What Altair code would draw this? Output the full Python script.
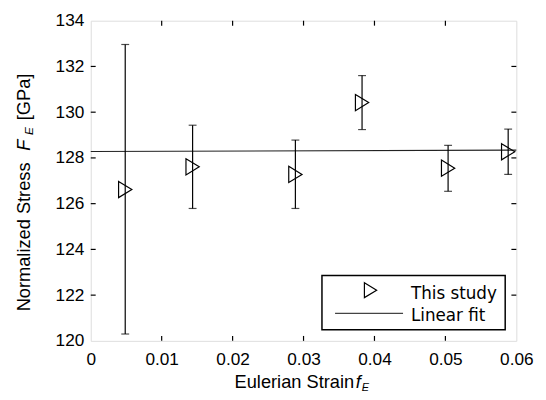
import altair as alt
import pandas as pd

# ---- data ----
strain = [0.00486, 0.01436, 0.02885, 0.03825, 0.05038, 0.05885]
stress = [126.62, 127.61, 127.28, 130.42, 127.55, 128.27]
err_low = [120.30, 125.79, 125.79, 129.24, 126.54, 127.28]
err_high = [132.96, 129.43, 128.78, 131.60, 128.55, 129.26]

fit_x = [0.0, 0.06]
fit_y = [128.28, 128.34]

x_ticks = [0, 0.01, 0.02, 0.03, 0.04, 0.05, 0.06]
y_ticks = [120, 122, 124, 126, 128, 130, 132, 134]
legend_labels = ["This study", "Linear fit"]

FONT = "Liberation Sans"
LFONT = "DejaVu Sans"
W, H = 432, 325
TRI = "M-0.82,-1L0.82,0L-0.82,1Z"

pts = pd.DataFrame({"strain": strain, "stress": stress, "lo": err_low, "hi": err_high})
fit = pd.DataFrame({"strain": fit_x, "stress": fit_y})
xt = pd.DataFrame({"strain": x_ticks[1:-1]})
yt = pd.DataFrame({"stress": y_ticks[1:-1]})
dummy = pd.DataFrame({"a": [0]})

xs = alt.Scale(domain=[0, 0.06], nice=False, zero=False)
ys = alt.Scale(domain=[120, 134], nice=False, zero=False)

x_axis = alt.Axis(values=x_ticks, format=".2~f", title=None, grid=False, domain=False,
                  ticks=False, labelFont=FONT, labelFontSize=17.5, labelColor="black",
                  labelPadding=10, labelFlush=False)
y_axis = alt.Axis(values=y_ticks, format="d", title=None, grid=False, domain=False,
                  ticks=False, labelFont=FONT, labelFontSize=17.5, labelColor="black",
                  labelPadding=7, labelFlush=False)


def X(f):
    return alt.X(f, scale=xs, axis=x_axis, title=None)


def Y(f):
    return alt.Y(f, scale=ys, axis=y_axis, title=None)


fit_line = alt.Chart(fit).mark_line(color="#222222", strokeWidth=1.2).encode(
    x=X("strain:Q"), y=Y("stress:Q"))

bars = alt.Chart(pts).mark_rule(color="black", strokeWidth=1.2).encode(
    x=X("strain:Q"), y=Y("lo:Q"), y2="hi:Q")
cap_lo = alt.Chart(pts).mark_tick(orient="horizontal", size=8, thickness=1.2, color="black").encode(
    x=X("strain:Q"), y=Y("lo:Q"))
cap_hi = alt.Chart(pts).mark_tick(orient="horizontal", size=8, thickness=1.2, color="black").encode(
    x=X("strain:Q"), y=Y("hi:Q"))
markers = alt.Chart(pts).mark_point(shape=TRI, size=270, filled=False, stroke="black",
                                    strokeWidth=1.2, opacity=1).encode(
    x=X("strain:Q"), y=Y("stress:Q"))

# inward ticks on all four sides
tk = dict(color="black", strokeWidth=1.2)
t_bottom = alt.Chart(xt).mark_rule(**tk).encode(
    x=X("strain:Q"), y=alt.value(H), y2=alt.value(H - 5))
t_top = alt.Chart(xt).mark_rule(**tk).encode(
    x=X("strain:Q"), y=alt.value(0), y2=alt.value(5))
t_left = alt.Chart(yt).mark_rule(**tk).encode(
    y=Y("stress:Q"), x=alt.value(0), x2=alt.value(5))
t_right = alt.Chart(yt).mark_rule(**tk).encode(
    y=Y("stress:Q"), x=alt.value(W), x2=alt.value(W - 5))


# axis titles with italic symbols and subscripts
def txt(s, x, y, size=18.5, italic=False, angle=0, font=FONT):
    return alt.Chart(dummy).mark_text(
        text=s, font=font, fontSize=size, fontStyle="italic" if italic else "normal",
        align="left", baseline="alphabetic", angle=angle, color="black",
    ).encode(x=alt.value(x), y=alt.value(y))


xt1 = txt("Eulerian Strain", 146, 373)
xt2 = txt("f", 269, 373, italic=True)
xt3 = txt("E", 275, 376, size=11, italic=True)

yt1 = txt("Normalized Stress", -62, 295, angle=270)
yt2 = txt("F", -62, 132, italic=True, angle=270)
yt3 = txt("E", -58.5, 116, size=12, italic=True, angle=270)
yt4 = txt("[GPa]", -62, 101, angle=270)

# legend
leg_box = alt.Chart(dummy).mark_rect(fill="white", stroke="black", strokeWidth=1.5).encode(
    x=alt.value(234.7), x2=alt.value(420.7), y=alt.value(258.7), y2=alt.value(313.7))
leg_tri = alt.Chart(dummy).mark_point(shape=TRI, size=230, filled=False, stroke="black",
                                      strokeWidth=1.2, opacity=1).encode(
    x=alt.value(284), y=alt.value(273.5))
leg_line = alt.Chart(dummy).mark_rule(color="#444444", strokeWidth=1.2).encode(
    x=alt.value(248), x2=alt.value(317), y=alt.value(297))
leg_t1 = txt(legend_labels[0], 325, 282, size=17, font=LFONT)
leg_t2 = txt(legend_labels[1], 325, 304.5, size=17, font=LFONT)

chart = alt.layer(
    fit_line, bars, cap_lo, cap_hi, markers,
    t_bottom, t_top, t_left, t_right,
    xt1, xt2, xt3, yt1, yt2, yt3, yt4,
    leg_box, leg_tri, leg_line, leg_t1, leg_t2,
).properties(
    width=W, height=H,
    autosize=alt.AutoSizeParams(type="none"),
    padding={"left": 84, "top": 10, "right": 22, "bottom": 49},
).configure_view(
    stroke="black", strokeWidth=1.3
).configure(background="white")

chart.save("out.html", embed_options={"renderer": "svg", "actions": False})
